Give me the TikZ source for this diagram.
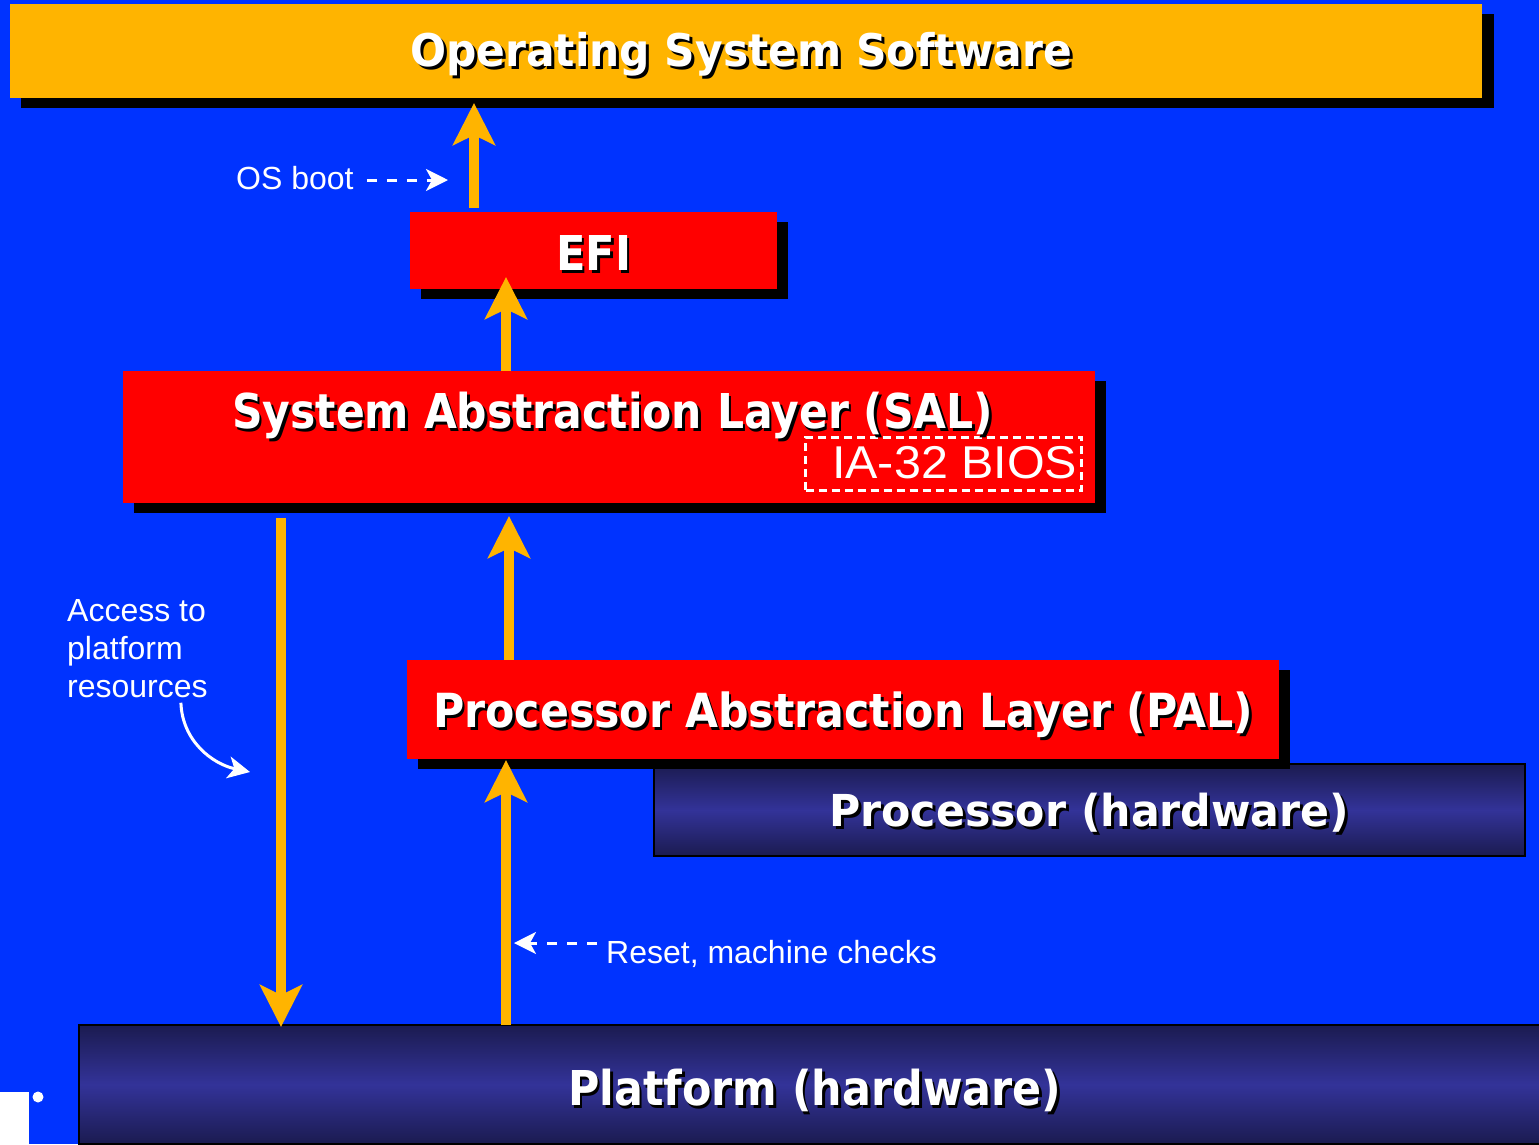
\documentclass[tikz,border=0pt]{standalone}
\usepackage{fontspec}
\setmainfont{Liberation Sans}
\newfontfamily\titlefont{DejaVu Sans}
\usetikzlibrary{arrows.meta,shadows,calc}

\definecolor{bgblue}{RGB}{0,51,255}
\definecolor{amber}{RGB}{255,180,0}
\definecolor{layerred}{RGB}{255,0,0}
\definecolor{navydark}{RGB}{27,27,80}
\definecolor{navylight}{RGB}{51,51,153}

% white bold heading with a hard black shadow, squeezed to a given width
\newcommand\shadowtext[1]{\rlap{\hspace*{3pt}\raisebox{-3pt}{\color{black}#1}}#1}
\newcommand\headtext[3]{{\fontsize{#2}{#2}\selectfont\resizebox{#1}{\height}{\titlefont\bfseries\shadowtext{#3}}}}

\tikzset{
  layerbox/.style={inner sep=0pt, outer sep=0pt,
    drop shadow={shadow xshift=11pt, shadow yshift=-10pt, fill=black, opacity=1}},
  redlayer/.style={layerbox, fill=layerred},
  hwlayer/.style={inner sep=0pt, outer sep=0pt, draw=black, line width=2pt,
    top color=navydark, bottom color=navydark, middle color=navylight},
  heading/.style={text=white, inner sep=0pt, anchor=base west},
  note/.style={text=white, inner sep=0pt, font=\fontsize{32}{38}\selectfont},
  flow/.style={draw=amber, line width=10pt,
    -{Stealth[length=42pt, width=42pt, inset=10pt]}},
  hint/.style={draw=white, line width=3pt, dash pattern=on 10pt off 10pt,
    -{Stealth[length=22pt, width=22pt, inset=6pt]}},
  swoop/.style={draw=white, line width=3pt,
    -{Stealth[length=22pt, width=22pt, inset=6pt]}},
}

\begin{document}
\begin{tikzpicture}[x=1pt, y=-1pt]
  \useasboundingbox (0,0) rectangle (1539,1144);
  \clip (0,0) rectangle (1539,1144);
  \fill[bgblue] (0,0) rectangle (1539,1144);

  % layer boxes
  \node[layerbox, fill=amber, minimum width=1472pt, minimum height=94pt,
        drop shadow={shadow xshift=12pt, shadow yshift=-10pt, fill=black, opacity=1}]
        (os) at (746,51) {};
  \node[hwlayer, minimum width=871pt, minimum height=92pt] (proc) at (1089.5,810) {};
  \node[redlayer, minimum width=872pt, minimum height=99pt] (pal) at (843,709.5) {};
  \node[redlayer, minimum width=972pt, minimum height=132pt] (sal) at (609,437) {};
  \node[redlayer, minimum width=367pt, minimum height=77pt] (efi) at (593.5,250.5) {};
  \node[hwlayer, minimum width=1481pt, minimum height=119pt] (plat) at (819.5,1084.5) {};

  % IA-32 BIOS region inside the SAL
  \node[draw=white, line width=3pt, dash pattern=on 8pt off 5pt, inner sep=0pt,
        minimum width=276pt, minimum height=53pt] (bios) at (943.5,463.5) {};

  % headings
  \node[heading] (ostext) at (410,66) {\headtext{662pt}{45}{Operating System Software}};
  \node[heading] (efitext) at (556,270) {\headtext{75pt}{48}{EFI}};
  \node[heading] (saltext) at (232,428) {\headtext{761pt}{48}{System Abstraction Layer (SAL)}};
  \node[heading] (paltext) at (433,727) {\headtext{820pt}{47}{Processor Abstraction Layer (PAL)}};
  \node[heading] (proctext) at (829,826) {\headtext{520pt}{44}{Processor (hardware)}};
  \node[heading] (plattext) at (568,1105) {\headtext{493pt}{48}{Platform (hardware)}};
  \node[heading] (biostext) at (832,478)
        {\fontsize{46}{46}\selectfont\resizebox{245pt}{\height}{IA-32 BIOS}};

  % flow arrows
  \coordinate (bootTip) at (474,103);
  \coordinate (efiTip) at (506,277);
  \coordinate (salTip) at (509,516);
  \coordinate (palTip) at (506,760);
  \coordinate (platTip) at (281,1027);
  \draw[flow, shorten <=4pt] (efi.north -| bootTip) -- (bootTip);
  \draw[flow] (sal.north -| efiTip) -- (efiTip);
  \draw[flow] (pal.north -| salTip) -- (salTip);
  \draw[flow] (plat.north -| palTip) -- (palTip);
  \draw[flow, shorten <=15pt] (sal.south -| platTip) -- (platTip);

  % side notes
  \node[note, anchor=base west] (osboot) at (236,189) {OS boot};
  \coordinate (bootHint) at (448,180);
  \draw[hint, shorten <=13pt] (osboot.east |- bootHint) -- (bootHint);

  \node[note, anchor=base west] (reset) at (606,963) {Reset, machine checks};
  \coordinate (resetHint) at (514,943);
  \draw[hint, shorten <=9pt] (reset.west |- resetHint) -- (resetHint);

  \node[note, anchor=north west, align=left] (access) at (67,599)
        {Access to\\platform\\resources};
  \coordinate (accessTip) at (250,772);
  \draw[swoop] ($(access.south east)+(-27,5)$) to[out=-88, in=168] (accessTip);

  % corner mark
  \fill[white] (0,1092) rectangle (29,1144);
  \fill[white] (38,1097) circle (5.5);
\end{tikzpicture}
\end{document}
